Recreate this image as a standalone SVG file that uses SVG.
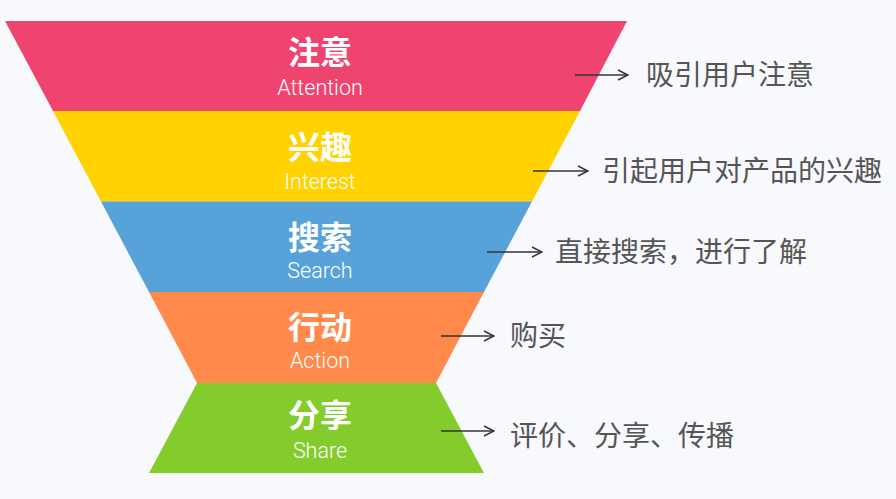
<svg xmlns="http://www.w3.org/2000/svg" width="896" height="499" viewBox="0 0 896 499">
  <defs>
    <marker id="arr" viewBox="0 0 12 12" refX="11" refY="6" markerWidth="12" markerHeight="12" markerUnits="userSpaceOnUse" orient="auto">
      <path d="M1,1 L11,6 L1,11" fill="none" stroke="#333" stroke-width="1.4"/>
    </marker>
  </defs>
  <style>
    .title { font-family: "Noto Sans CJK SC", "Noto Sans", sans-serif; font-size: 32px; font-weight: bold; fill: #fff; text-anchor: middle; }
    .sub { font-family: Roboto, "Liberation Sans", sans-serif; font-size: 21.5px; font-weight: 300; fill: #fff; text-anchor: middle; }
    .desc { font-family: "Noto Sans CJK SC", "Noto Sans", sans-serif; font-size: 28px; fill: #555; }
    .conn line { stroke: #333; stroke-width: 1.3; marker-end: url(#arr); }
  </style>
  <rect width="896" height="499" fill="#F7F9FC"/>

  <g id="node-attention">
    <polygon points="5,21 627,21 580,111 53,111" fill="#EF446F"/>
    <text class="title" x="320" y="64">注意</text>
    <text class="sub" x="320" y="95">Attention</text>
  </g>
  <g id="node-interest">
    <polygon points="53,111 580,111 532,201.5 101,201.5" fill="#FFD200"/>
    <text class="title" x="320" y="159">兴趣</text>
    <text class="sub" x="320" y="189">Interest</text>
  </g>
  <g id="node-search">
    <polygon points="101,201.5 532,201.5 484,292 149,292" fill="#56A2D9"/>
    <text class="title" x="320" y="249">搜索</text>
    <text class="sub" x="320" y="278">Search</text>
  </g>
  <g id="node-action">
    <polygon points="149,292 484,292 436,383 197,383" fill="#FF8A4B"/>
    <text class="title" x="320" y="339">行动</text>
    <text class="sub" x="320" y="368">Action</text>
  </g>
  <g id="node-share">
    <polygon points="197,383 436,383 484,473 149,473" fill="#84CC2C"/>
    <text class="title" x="320" y="427">分享</text>
    <text class="sub" x="320" y="458">Share</text>
  </g>

  <g id="connectors" class="conn">
    <line x1="575" y1="75" x2="628" y2="75"/>
    <line x1="533" y1="171" x2="588" y2="171"/>
    <line x1="487" y1="252" x2="542" y2="252"/>
    <line x1="441" y1="336" x2="494" y2="336"/>
    <line x1="441" y1="431" x2="494" y2="431"/>
  </g>

  <g id="labels">
    <text class="desc" x="646" y="85">吸引用户注意</text>
    <text class="desc" x="602" y="181">引起用户对产品的兴趣</text>
    <text class="desc" x="555" y="262">直接搜索，进行了解</text>
    <text class="desc" x="510" y="346">购买</text>
    <text class="desc" x="510" y="446">评价、分享、传播</text>
  </g>
</svg>
